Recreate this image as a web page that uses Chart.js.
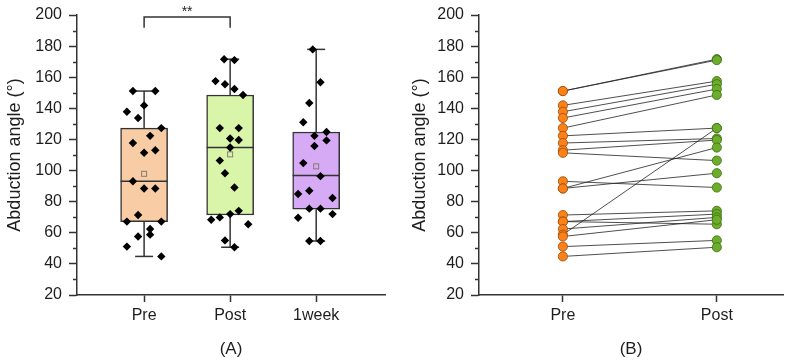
<!DOCTYPE html>
<html>
<head>
<meta charset="utf-8">
<script src="https://cdn.jsdelivr.net/npm/chart.js@4.4.0/dist/chart.umd.min.js"></script>
<style>
  html, body { margin: 0; padding: 0; background: #fff; }
  #wrap { position: relative; width: 796px; height: 361px; }
  .panel { position: absolute; top: 0; width: 398px; height: 361px; }
  #panelA { left: 0; }
  #panelB { left: 398px; }
</style>
</head>
<body>
<div id="wrap">
  <div class="panel" id="panelA"><canvas id="chartA" width="398" height="361"></canvas></div>
  <div class="panel" id="panelB"><canvas id="chartB" width="398" height="361"></canvas></div>
</div>
<script>
// --- data ---
const groups = ['Pre', 'Post', '1week'];

// pre / post are paired: preValues[i] -> postValues[i]
const preValues  = [151.1, 151.1, 141.9, 137.8, 133.8, 127.3, 122.3, 117.7, 113.1, 111.4, 93.1, 88.5, 88.5, 71.4, 67.2, 67.2, 62.4, 58.8, 57.6, 51.1, 44.8];
const postValues = [171.6, 171.0, 157.5, 155.5, 152.4, 148.6, 127.3, 120.6, 119.6, 106.4, 89.1, 114.8, 98.3, 74.1, 72.0, 65.5, 69.9, 127.3, 68.4, 55.1, 50.7];
const weekValues = [177.9, 156.8, 143.4, 131.1, 124.8, 122.3, 119.4, 115.8, 104.8, 96.4, 87.0, 84.9, 82.4, 75.5, 75.5, 72.0, 69.7, 54.7, 54.7];

// horizontal jitter of the dots in panel A (category units)
const preJitter  = [-0.13, 0.13, 0, -0.2, -0.07, 0.2, 0.07, -0.13, 0.13, 0, -0.13, 0, 0.13, -0.07, -0.2, 0.2, 0.07, 0.07, -0.07, -0.2, 0.2];
const postJitter = [-0.07, 0.05, -0.17, -0.06, 0.05, 0.15, -0.12, 0, 0.1, -0.12, 0.05, 0, -0.06, 0.1, 0, 0.21, -0.12, 0.1, -0.22, -0.06, 0.05];
const weekJitter = [-0.04, 0.05, -0.08, -0.15, 0.12, -0.02, 0.12, -0.02, -0.15, 0.05, -0.08, -0.21, 0.19, -0.08, 0.05, 0.19, -0.21, -0.08, 0.05];

// box statistics
const boxMin    = [44.8, 50.7, 54.7];
const boxQ1     = [67.2, 71.4, 75.1];
const boxMedian = [93.1, 114.8, 96.8];
const boxQ3     = [127.3, 148.6, 124.8];
const boxMax    = [151.1, 171.6, 177.9];
const boxMean   = [97.9, 110.4, 102.7];

const yTicks = [20, 40, 60, 80, 100, 120, 140, 160, 180, 200];

const boxFills = ['#f8cca4', '#d9f5aa', '#d6aaf5'];
const INK = '#1e1e1e';
const AXIS = '#333';

Chart.defaults.font.family = '"Liberation Sans", Arial, sans-serif';
Chart.defaults.color = INK;

// --- shared scale builders ---
const yScale = (leftWidth, titlePad) => ({
  min: 20, max: 200,
  afterBuildTicks: s => { s.ticks = yTicks.map(v => ({ value: v })); },
  afterFit: s => { s.width = leftWidth; },
  ticks: { font: { size: 16, lineHeight: 1 }, color: INK, padding: 7 },
  grid: { drawOnChartArea: false, tickLength: 8, tickColor: AXIS, tickWidth: 1.5 },
  border: { color: AXIS, width: 1.5 },
  title: { display: true, text: 'Abduction angle (°)', font: { size: 18 }, color: INK, padding: { top: titlePad, bottom: 0 } }
});

const xScale = (min, max, count, label) => ({
  type: 'linear', min: min, max: max,
  offset: false,
  afterBuildTicks: s => { s.ticks = groups.slice(0, count).map((g, i) => ({ value: i + 1 })); },
  afterFit: s => { s.height = 66; },
  ticks: { font: { size: 16 }, color: INK, padding: 4, autoSkip: false, callback: v => groups[v - 1] },
  grid: { offset: false, drawOnChartArea: false, tickLength: 7, tickColor: AXIS, tickWidth: 1.5 },
  border: { color: AXIS, width: 1.5 },
  title: { display: true, text: label, font: { size: 17 }, color: INK, padding: { top: 0, bottom: 1 } }
});

// minor ticks between the labelled y ticks
const minorTicks = {
  id: 'minorTicks',
  afterDraw(chart) {
    const { ctx, scales: { y }, chartArea } = chart;
    ctx.save();
    ctx.strokeStyle = AXIS;
    ctx.lineWidth = 1.5;
    for (let i = 0; i < yTicks.length - 1; i++) {
      const py = Math.round(y.getPixelForValue((yTicks[i] + yTicks[i + 1]) / 2)) + 0.5;
      ctx.beginPath();
      ctx.moveTo(chartArea.left - 4, py);
      ctx.lineTo(chartArea.left, py);
      ctx.stroke();
    }
    ctx.restore();
  }
};

// whiskers, median and mean drawn right after the boxes
const boxExtras = {
  id: 'boxExtras',
  afterDatasetDraw(chart, args) {
    if (args.meta.type !== 'bar') return;
    const { ctx, scales: { x, y } } = chart;
    ctx.save();
    ctx.strokeStyle = AXIS;
    ctx.lineWidth = 1.5;
    groups.forEach((g, i) => {
      const cx = x.getPixelForValue(i + 1);
      const half = 23.5, cap = 9;
      const line = (x1, y1, x2, y2) => { ctx.beginPath(); ctx.moveTo(x1, y1); ctx.lineTo(x2, y2); ctx.stroke(); };
      line(cx, y.getPixelForValue(boxQ3[i]), cx, y.getPixelForValue(boxMax[i]));
      line(cx, y.getPixelForValue(boxQ1[i]), cx, y.getPixelForValue(boxMin[i]));
      line(cx - cap, y.getPixelForValue(boxMax[i]), cx + cap, y.getPixelForValue(boxMax[i]));
      line(cx - cap, y.getPixelForValue(boxMin[i]), cx + cap, y.getPixelForValue(boxMin[i]));
      line(cx - half, y.getPixelForValue(boxMedian[i]), cx + half, y.getPixelForValue(boxMedian[i]));
      // mean marker
      const my = y.getPixelForValue(boxMean[i]);
      ctx.save();
      ctx.strokeStyle = '#8a7a72';
      ctx.lineWidth = 1;
      ctx.strokeRect(cx - 2.5, my - 2.5, 5, 5);
      ctx.restore();
    });
    ctx.restore();
  }
};

// significance bracket between Pre and Post
const sigBracket = {
  id: 'sigBracket',
  afterDraw(chart) {
    const { ctx, scales: { x, y } } = chart;
    const x1 = x.getPixelForValue(1), x2 = x.getPixelForValue(2);
    const top = y.getPixelForValue(198.7), foot = y.getPixelForValue(191.8);
    ctx.save();
    ctx.strokeStyle = AXIS;
    ctx.lineWidth = 1.5;
    ctx.beginPath();
    ctx.moveTo(x1, foot); ctx.lineTo(x1, top); ctx.lineTo(x2, top); ctx.lineTo(x2, foot);
    ctx.stroke();
    ctx.fillStyle = INK;
    ctx.font = '14px "Liberation Sans", Arial, sans-serif';
    ctx.textAlign = 'center';
    ctx.textBaseline = 'alphabetic';
    ctx.fillText('**', (x1 + x2) / 2, top - 1);
    ctx.restore();
  }
};

const dots = (values, jitter, pos) => values.map((v, i) => ({ x: pos + jitter[i], y: v }));

// --- panel A: box plot ---
new Chart(document.getElementById('chartA'), {
  type: 'scatter',
  data: {
    datasets: [
      { data: dots(preValues, preJitter, 1), order: 0 },
      { data: dots(postValues, postJitter, 2), order: 0 },
      { data: dots(weekValues, weekJitter, 3), order: 0 },
      {
        type: 'bar',
        data: groups.map((g, i) => ({ x: i + 1, y: [boxQ1[i], boxQ3[i]] })),
        backgroundColor: boxFills,
        borderColor: AXIS,
        borderWidth: 1.5,
        borderSkipped: false,
        barThickness: 47,
        order: 1
      }
    ].map(d => d.type ? d : Object.assign(d, {
      pointStyle: 'rectRot', pointRadius: 4.2, backgroundColor: '#000', borderWidth: 0
    }))
  },
  options: {
    responsive: false,
    animation: false,
    layout: { padding: { top: 0, right: 13, left: 0, bottom: 0 } },
    plugins: { legend: { display: false }, tooltip: { enabled: false } },
    scales: { x: xScale(0.22, 3.8, 3, '(A)'), y: yScale(77, 4) }
  },
  plugins: [boxExtras, minorTicks, sigBracket]
});

// --- panel B: paired pre/post ---
const pairLines = preValues.map((v, i) => ({
  type: 'line',
  data: [{ x: 1, y: v }, { x: 2, y: postValues[i] }],
  borderColor: '#222',
  borderWidth: 0.8,
  pointRadius: 0,
  order: 1
}));

new Chart(document.getElementById('chartB'), {
  type: 'scatter',
  data: {
    datasets: [
      { data: preValues.map(v => ({ x: 1, y: v })), backgroundColor: '#fb8118', borderColor: '#9a4a08', borderWidth: 0.8, pointRadius: 4.6, order: 0 },
      { data: postValues.map(v => ({ x: 2, y: v })), backgroundColor: '#6cae2b', borderColor: '#3b6c12', borderWidth: 0.8, pointRadius: 4.6, order: 0 },
      ...pairLines
    ]
  },
  options: {
    responsive: false,
    animation: false,
    layout: { padding: { top: 0, right: 13, left: 0, bottom: 0 } },
    plugins: { legend: { display: false }, tooltip: { enabled: false } },
    scales: { x: xScale(0.455, 2.43, 2, '(B)'), y: yScale(81, 11) }
  },
  plugins: [minorTicks]
});
</script>
</body>
</html>
